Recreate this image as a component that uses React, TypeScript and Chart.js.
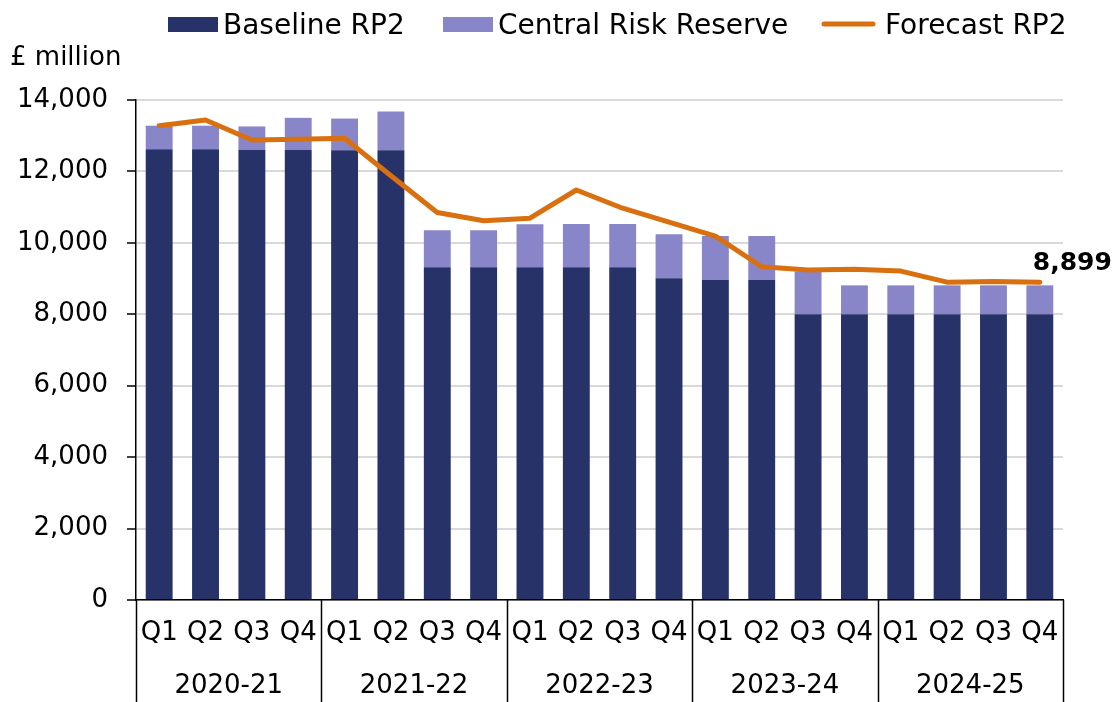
import React, { useEffect, useRef } from 'react';
import { Chart, registerables } from 'chart.js';

Chart.register(...registerables);

const quarters = [
  'Q1', 'Q2', 'Q3', 'Q4',
  'Q1', 'Q2', 'Q3', 'Q4',
  'Q1', 'Q2', 'Q3', 'Q4',
  'Q1', 'Q2', 'Q3', 'Q4',
  'Q1', 'Q2', 'Q3', 'Q4',
];
const years = ['2020-21', '2021-22', '2022-23', '2023-24', '2024-25'];

const baseline = [
  12620, 12620, 12600, 12600,
  12590, 12590, 9320, 9320,
  9320, 9320, 9320, 9010,
  8960, 8960, 8000, 8000,
  8000, 8000, 8000, 8000,
];
const reserve = [
  660, 660, 660, 900,
  890, 1090, 1030, 1030,
  1200, 1210, 1210, 1230,
  1230, 1230, 1200, 810,
  810, 810, 810, 810,
];
const forecast = [
  13280, 13440, 12880, 12900,
  12930, 11880, 10850, 10620,
  10690, 11480, 10970, 10580,
  10190, 9330, 9240, 9260,
  9210, 8900, 8915, 8899,
];

const seriesNames = ['Baseline RP2', 'Central Risk Reserve', 'Forecast RP2'];
const unitLabel = '£ million';
const yMax = 14000;
const yStep = 2000;

const DARK = '#263268';
const LIGHT = '#8886c8';
const ORANGE = '#d9700f';
const FONT = 'DejaVu Sans';

const fmt = (v: number) => v.toLocaleString('en-US');

const decorPlugin = {
  id: 'decor',
  afterDraw(chart: any) {
    const { ctx, chartArea, scales } = chart;
    const xs = scales.x;
    const ys = scales.y;
    ctx.save();

    // group separators under the x axis
    const n = years.length;
    const w = chartArea.right - chartArea.left;
    ctx.strokeStyle = '#000';
    ctx.lineWidth = 1.5;
    for (let g = 0; g <= n; g++) {
      const px = Math.round(chartArea.left + (w * g) / n) + 0.5;
      ctx.beginPath();
      ctx.moveTo(px, chartArea.bottom);
      ctx.lineTo(px, chart.height);
      ctx.stroke();
    }
    // year labels
    ctx.fillStyle = '#000';
    ctx.font = `26px "${FONT}"`;
    ctx.textAlign = 'center';
    ctx.textBaseline = 'alphabetic';
    for (let g = 0; g < n; g++) {
      const cx = chartArea.left + (w * (g + 0.5)) / n;
      ctx.fillText(years[g], cx, 693);
    }

    // unit label
    ctx.textAlign = 'left';
    ctx.fillText(unitLabel, 10, 65);

    // legend
    ctx.font = `28px "${FONT}"`;
    const items = [
      { x: 168, color: DARK, kind: 'box' },
      { x: 443, color: LIGHT, kind: 'box' },
      { x: 822, color: ORANGE, kind: 'line' },
    ];
    items.forEach((it, i) => {
      if (it.kind === 'box') {
        ctx.fillStyle = it.color;
        ctx.fillRect(it.x, 17, 50, 15);
        ctx.fillStyle = '#000';
        ctx.fillText(seriesNames[i], it.x + 55, 34);
      } else {
        ctx.strokeStyle = it.color;
        ctx.lineWidth = 5;
        ctx.lineCap = 'round';
        ctx.beginPath();
        ctx.moveTo(it.x + 2, 24);
        ctx.lineTo(it.x + 51, 24);
        ctx.stroke();
        ctx.fillStyle = '#000';
        ctx.fillText(seriesNames[i], it.x + 63, 34);
      }
    });

    // end value label
    const last = forecast.length - 1;
    const lx = xs.getPixelForValue(last);
    const ly = ys.getPixelForValue(forecast[last]);
    ctx.font = `bold 25px "${FONT}"`;
    ctx.fillStyle = '#000';
    ctx.textAlign = 'left';
    ctx.fillText(fmt(forecast[last]), lx - 7, ly - 12);

    ctx.restore();
  },
};

export default function App() {
  const ref = useRef<HTMLCanvasElement | null>(null);

  useEffect(() => {
    if (!ref.current) return;
    const chart = new Chart(ref.current, {
      type: 'bar',
      data: {
        labels: quarters,
        datasets: [
          {
            type: 'line',
            label: seriesNames[2],
            data: forecast,
            borderColor: ORANGE,
            backgroundColor: ORANGE,
            borderWidth: 5,
            pointRadius: 0,
            tension: 0,
            borderCapStyle: 'round',
            borderJoinStyle: 'round',
            stack: 'line',
            order: 0,
          } as any,
          {
            type: 'bar',
            label: seriesNames[0],
            data: baseline,
            backgroundColor: DARK,
            stack: 'bars',
            order: 1,
            barPercentage: 0.58,
            categoryPercentage: 1,
          },
          {
            type: 'bar',
            label: seriesNames[1],
            data: reserve,
            backgroundColor: LIGHT,
            stack: 'bars',
            order: 2,
            barPercentage: 0.58,
            categoryPercentage: 1,
          },
        ],
      },
      options: {
        animation: false,
        responsive: true,
        maintainAspectRatio: false,
        layout: { padding: { top: 100, right: 51, left: 0, bottom: 0 } },
        font: { family: FONT },
        plugins: {
          legend: { display: false },
          tooltip: { enabled: false },
        },
        scales: {
          x: {
            stacked: true,
            offset: true,
            grid: { display: false, drawTicks: false },
            border: { display: true, color: '#000', width: 1.5 },
            ticks: {
              color: '#000',
              font: { family: FONT, size: 26 },
              padding: 18,
              maxRotation: 0,
              autoSkip: false,
            },
            afterFit: (s: any) => {
              s.height = 102;
            },
          },
          y: {
            stacked: true,
            min: 0,
            max: yMax,
            ticks: {
              stepSize: yStep,
              color: '#000',
              font: { family: FONT, size: 26 },
              padding: 19,
              callback: (v: any) => fmt(Number(v)),
            },
            grid: {
              color: '#d9d9d9',
              lineWidth: 2,
              tickLength: 9,
              tickColor: '#000',
              tickWidth: 1.5,
            },
            border: { display: true, color: '#000', width: 1.5 },
            afterFit: (s: any) => {
              s.width = 136;
            },
          },
        },
      } as any,
      plugins: [decorPlugin],
    });
    return () => chart.destroy();
  }, []);

  return (
    <div style={{ position: 'fixed', left: 0, top: 0, width: 1114, height: 702 }}>
      <canvas ref={ref} />
    </div>
  );
}
